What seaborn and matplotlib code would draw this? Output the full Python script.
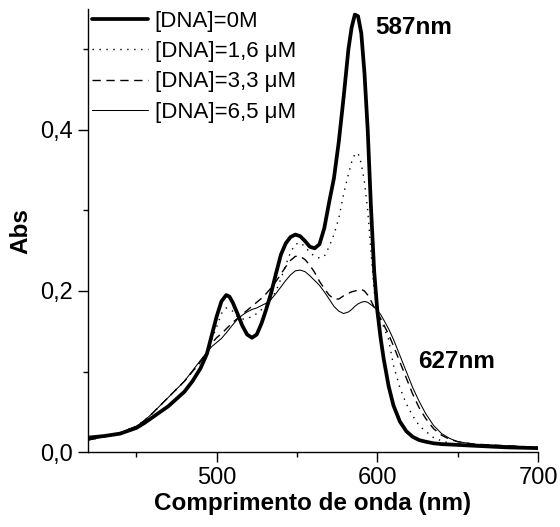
import numpy as np
import pandas as pd
import matplotlib
matplotlib.use("Agg")
import matplotlib.pyplot as plt
import seaborn as sns
from matplotlib.ticker import MultipleLocator, FuncFormatter

wavelength = [420, 430, 440, 450, 455, 460, 465, 470, 475, 480, 485, 490, 494, 497, 500,
              503, 506, 508, 510, 513, 516, 519, 522, 525, 528, 531, 534, 537, 540, 543,
              546, 549, 552, 555, 558, 561, 564, 567, 570, 573, 576, 579, 582, 584, 586,
              588, 590, 592, 594, 596, 598, 600, 602, 604, 607, 610, 614, 618, 622, 626,
              630, 635, 640, 645, 650, 660, 670, 680, 690, 700]

abs_0M = [0.018, 0.020, 0.023, 0.030, 0.036, 0.043, 0.050, 0.057, 0.066, 0.075, 0.088, 0.104,
          0.122, 0.145, 0.168, 0.187, 0.195, 0.193, 0.186, 0.172, 0.157, 0.146, 0.142, 0.146,
          0.160, 0.178, 0.198, 0.222, 0.245, 0.259, 0.267, 0.270, 0.268, 0.262, 0.255, 0.253,
          0.258, 0.278, 0.310, 0.340, 0.385, 0.440, 0.500, 0.527, 0.543, 0.541, 0.520, 0.470,
          0.400, 0.305, 0.225, 0.175, 0.142, 0.115, 0.082, 0.058, 0.038, 0.026, 0.019, 0.015,
          0.013, 0.011, 0.010, 0.0095, 0.009, 0.008, 0.007, 0.006, 0.0055, 0.005]

abs_1_6 = [0.015, 0.019, 0.024, 0.032, 0.039, 0.048, 0.058, 0.068, 0.078, 0.088, 0.100, 0.112,
           0.125, 0.140, 0.155, 0.172, 0.179, 0.178, 0.175, 0.168, 0.165, 0.166, 0.168, 0.172,
           0.177, 0.183, 0.190, 0.200, 0.215, 0.232, 0.248, 0.258, 0.260, 0.255, 0.248, 0.243,
           0.241, 0.243, 0.255, 0.270, 0.290, 0.320, 0.345, 0.360, 0.370, 0.371, 0.358, 0.335,
           0.300, 0.250, 0.200, 0.175, 0.165, 0.155, 0.140, 0.108, 0.080, 0.060, 0.045, 0.033,
           0.026, 0.018, 0.014, 0.011, 0.010, 0.009, 0.008, 0.007, 0.006, 0.0055]

abs_3_3 = [0.015, 0.019, 0.024, 0.032, 0.039, 0.048, 0.058, 0.068, 0.078, 0.088, 0.100, 0.112,
           0.125, 0.135, 0.142, 0.147, 0.153, 0.157, 0.161, 0.166, 0.171, 0.176, 0.181, 0.186,
           0.191, 0.197, 0.204, 0.212, 0.221, 0.230, 0.238, 0.243, 0.243, 0.239, 0.232, 0.223,
           0.212, 0.203, 0.195, 0.190, 0.190, 0.194, 0.197, 0.199, 0.200, 0.201, 0.202, 0.200,
           0.195, 0.188, 0.180, 0.173, 0.166, 0.158, 0.146, 0.132, 0.112, 0.092, 0.072, 0.055,
           0.042, 0.029, 0.021, 0.016, 0.013, 0.010, 0.009, 0.008, 0.007, 0.006]

abs_6_5 = [0.015, 0.019, 0.024, 0.032, 0.039, 0.048, 0.058, 0.068, 0.078, 0.088, 0.101, 0.114,
           0.124, 0.131, 0.136, 0.141, 0.148, 0.153, 0.158, 0.165, 0.170, 0.174, 0.177, 0.179,
           0.182, 0.185, 0.190, 0.197, 0.205, 0.213, 0.220, 0.225, 0.226, 0.224, 0.219, 0.213,
           0.207, 0.199, 0.190, 0.181, 0.175, 0.172, 0.174, 0.177, 0.181, 0.184, 0.186, 0.187,
           0.186, 0.183, 0.180, 0.176, 0.171, 0.164, 0.153, 0.140, 0.120, 0.100, 0.080, 0.063,
           0.048, 0.033, 0.023, 0.017, 0.013, 0.010, 0.009, 0.008, 0.007, 0.006]

labels = ["[DNA]=0M", "[DNA]=1,6 μM", "[DNA]=3,3 μM", "[DNA]=6,5 μM"]
series = [abs_0M, abs_1_6, abs_3_3, abs_6_5]

sns.set_style("ticks")
plt.rcParams['font.family'] = ['Liberation Sans', 'DejaVu Sans']
plt.rcParams['text.color'] = 'black'
plt.rcParams['axes.labelcolor'] = 'black'
plt.rcParams['xtick.color'] = 'black'
plt.rcParams['ytick.color'] = 'black'

fig = plt.figure(figsize=(5.6, 5.27), dpi=100)
ax = fig.add_axes([0.157, 0.142, 0.804, 0.841])

styles = [dict(lw=2.7, ls='-'), dict(lw=1.0, ls=(0, (1, 4))),
          dict(lw=1.0, ls=(0, (6, 4))), dict(lw=0.75, ls='-')]

for lab, vals, st in zip(labels, series, styles):
    df = pd.DataFrame({"wl": wavelength, "a": vals})
    sns.lineplot(data=df, x="wl", y="a", ax=ax, color='black', label=lab,
                 linewidth=st['lw'], linestyle=st['ls'])

ax.set_xlim(420, 700)
ax.set_ylim(0, 0.55)
ax.xaxis.set_major_locator(MultipleLocator(100))
ax.xaxis.set_minor_locator(MultipleLocator(50))
ax.yaxis.set_major_locator(MultipleLocator(0.2))
ax.yaxis.set_minor_locator(MultipleLocator(0.1))
ax.yaxis.set_major_formatter(FuncFormatter(lambda v, p: f"{v:.1f}".replace('.', ',')))
ax.tick_params(axis='both', which='major', direction='out', length=7, width=1,
               labelsize=17, color='black', labelcolor='black')
ax.tick_params(axis='both', which='minor', direction='out', length=3.5, width=1, color='black')
for s in ['top', 'right']:
    ax.spines[s].set_visible(False)
for s in ['left', 'bottom']:
    ax.spines[s].set_color('black')
    ax.spines[s].set_linewidth(1)

ax.set_xlabel("Comprimento de onda (nm)", fontsize=17.5, fontweight='bold', labelpad=2)
ax.set_ylabel("Abs", fontsize=17.5, fontweight='bold', labelpad=6)

ax.text(622.5, 0.527, "587nm", fontsize=17.5, fontweight='bold', ha='center', va='center')
ax.text(649, 0.113, "627nm", fontsize=17.5, fontweight='bold', ha='center', va='center')

leg = ax.legend(loc='upper left', bbox_to_anchor=(0.0, 1.006), frameon=False, fontsize=16,
                handlelength=2.5, handletextpad=0.3, labelspacing=0.42,
                borderpad=0.0, borderaxespad=0.2)

fig.savefig("out.png", dpi=100)
